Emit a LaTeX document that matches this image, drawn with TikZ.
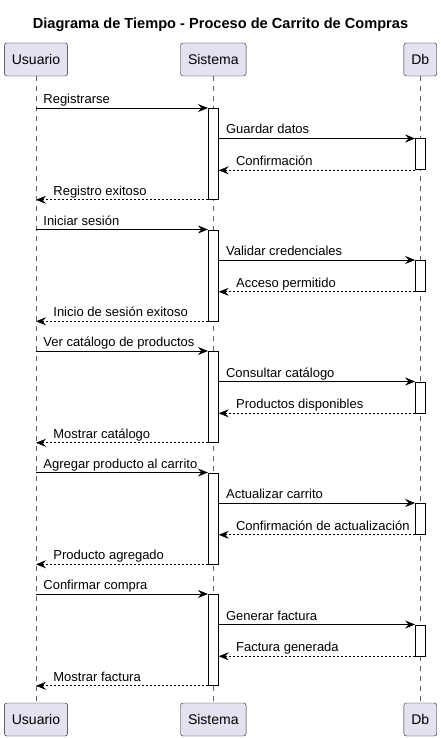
\documentclass[tikz,border=0pt]{standalone}
\usepackage{fontspec}
\setmainfont{Liberation Sans}
\usepackage{tikz}
\usetikzlibrary{arrows.meta}
\definecolor{partfill}{HTML}{E2E2F0}
\definecolor{partline}{HTML}{181818}
\tikzstyle{participant} = [rectangle,rounded corners=2.5pt,minimum height=33pt,inner xsep=7.5pt,draw=partline,fill=partfill,font=\fontsize{14}{16}\selectfont]
\tikzstyle{lifeline} = [draw=partline!70,line width=0.5pt,dash pattern=on 5pt off 5pt]
\tikzstyle{active} = [rectangle,minimum width=10pt,draw=black,fill=white,inner sep=0pt,line width=0.8pt]
\tikzstyle{call} = [line width=0.8pt,-{Stealth[length=10pt,width=8pt,inset=3.5pt]}]
\tikzstyle{ret} = [call,dash pattern=on 2pt off 2pt]
\tikzstyle{callmsg} = [anchor=base west,inner sep=0pt,xshift=7pt,yshift=4.5pt,font=\fontsize{13}{15}\selectfont]
\tikzstyle{retmsg} = [anchor=base west,inner sep=0pt,xshift=17pt,yshift=4.5pt,font=\fontsize{13}{15}\selectfont]

\begin{document}
\begin{tikzpicture}[x=1pt,y=-1pt]
\useasboundingbox (0,0) rectangle (441,738);
\node (title) [anchor=base,inner sep=0pt] at (220.5,29) {\fontsize{14.6}{16}\selectfont\bfseries Diagrama de Tiempo - Proceso de Carrito de Compras};

% participants
\node (uT) [participant] at (36,59.5) {Usuario};
\node (sT) [participant] at (213.3,59.5) {Sistema};
\node (dT) [participant] at (420.3,59.5) {Db};
\node (uB) [participant] at (36,719.5) {Usuario};
\node (sB) [participant] at (213.3,719.5) {Sistema};
\node (dB) [participant] at (420.3,719.5) {Db};

\draw [lifeline] (uT) -- (uB);
\draw [lifeline] (sT) -- (sB);
\draw [lifeline] (dT) -- (dB);

% activations
\node (s1) [active,minimum height=91pt,anchor=north] at (213.3,108) {};
\node (d1) [active,minimum height=31pt,anchor=north] at (420.5,138.5) {};
\node (s2) [active,minimum height=91pt,anchor=north] at (213.3,229.5) {};
\node (d2) [active,minimum height=31pt,anchor=north] at (420.5,260) {};
\node (s3) [active,minimum height=91pt,anchor=north] at (213.3,351) {};
\node (d3) [active,minimum height=31pt,anchor=north] at (420.5,381.5) {};
\node (s4) [active,minimum height=91pt,anchor=north] at (213.3,472.5) {};
\node (d4) [active,minimum height=31pt,anchor=north] at (420.5,503) {};
\node (s5) [active,minimum height=91pt,anchor=north] at (213.3,594) {};
\node (d5) [active,minimum height=31pt,anchor=north] at (420.5,624.5) {};

% registro
\draw [call] (uT |- s1.north) -- (s1.north west) node[callmsg,pos=0] {Registrarse};
\draw [call] (s1.east |- d1.north) -- (d1.north west) node[callmsg,pos=0] {Guardar datos};
\draw [ret] (d1.south west) -- (s1.east |- d1.south) node[retmsg,pos=1] {Confirmación};
\draw [ret] (s1.south west) -- (uT |- s1.south) node[retmsg,pos=1] {Registro exitoso};

% sesion
\draw [call] (uT |- s2.north) -- (s2.north west) node[callmsg,pos=0] {Iniciar sesión};
\draw [call] (s2.east |- d2.north) -- (d2.north west) node[callmsg,pos=0] {Validar credenciales};
\draw [ret] (d2.south west) -- (s2.east |- d2.south) node[retmsg,pos=1] {Acceso permitido};
\draw [ret] (s2.south west) -- (uT |- s2.south) node[retmsg,pos=1] {Inicio de sesión exitoso};

% catalogo
\draw [call] (uT |- s3.north) -- (s3.north west) node[callmsg,pos=0] {Ver catálogo de productos};
\draw [call] (s3.east |- d3.north) -- (d3.north west) node[callmsg,pos=0] {Consultar catálogo};
\draw [ret] (d3.south west) -- (s3.east |- d3.south) node[retmsg,pos=1] {Productos disponibles};
\draw [ret] (s3.south west) -- (uT |- s3.south) node[retmsg,pos=1] {Mostrar catálogo};

% carrito
\draw [call] (uT |- s4.north) -- (s4.north west) node[callmsg,pos=0] {Agregar producto al carrito};
\draw [call] (s4.east |- d4.north) -- (d4.north west) node[callmsg,pos=0] {Actualizar carrito};
\draw [ret] (d4.south west) -- (s4.east |- d4.south) node[retmsg,pos=1] {Confirmación de actualización};
\draw [ret] (s4.south west) -- (uT |- s4.south) node[retmsg,pos=1] {Producto agregado};

% compra
\draw [call] (uT |- s5.north) -- (s5.north west) node[callmsg,pos=0] {Confirmar compra};
\draw [call] (s5.east |- d5.north) -- (d5.north west) node[callmsg,pos=0] {Generar factura};
\draw [ret] (d5.south west) -- (s5.east |- d5.south) node[retmsg,pos=1] {Factura generada};
\draw [ret] (s5.south west) -- (uT |- s5.south) node[retmsg,pos=1] {Mostrar factura};

\end{tikzpicture}
\end{document}
